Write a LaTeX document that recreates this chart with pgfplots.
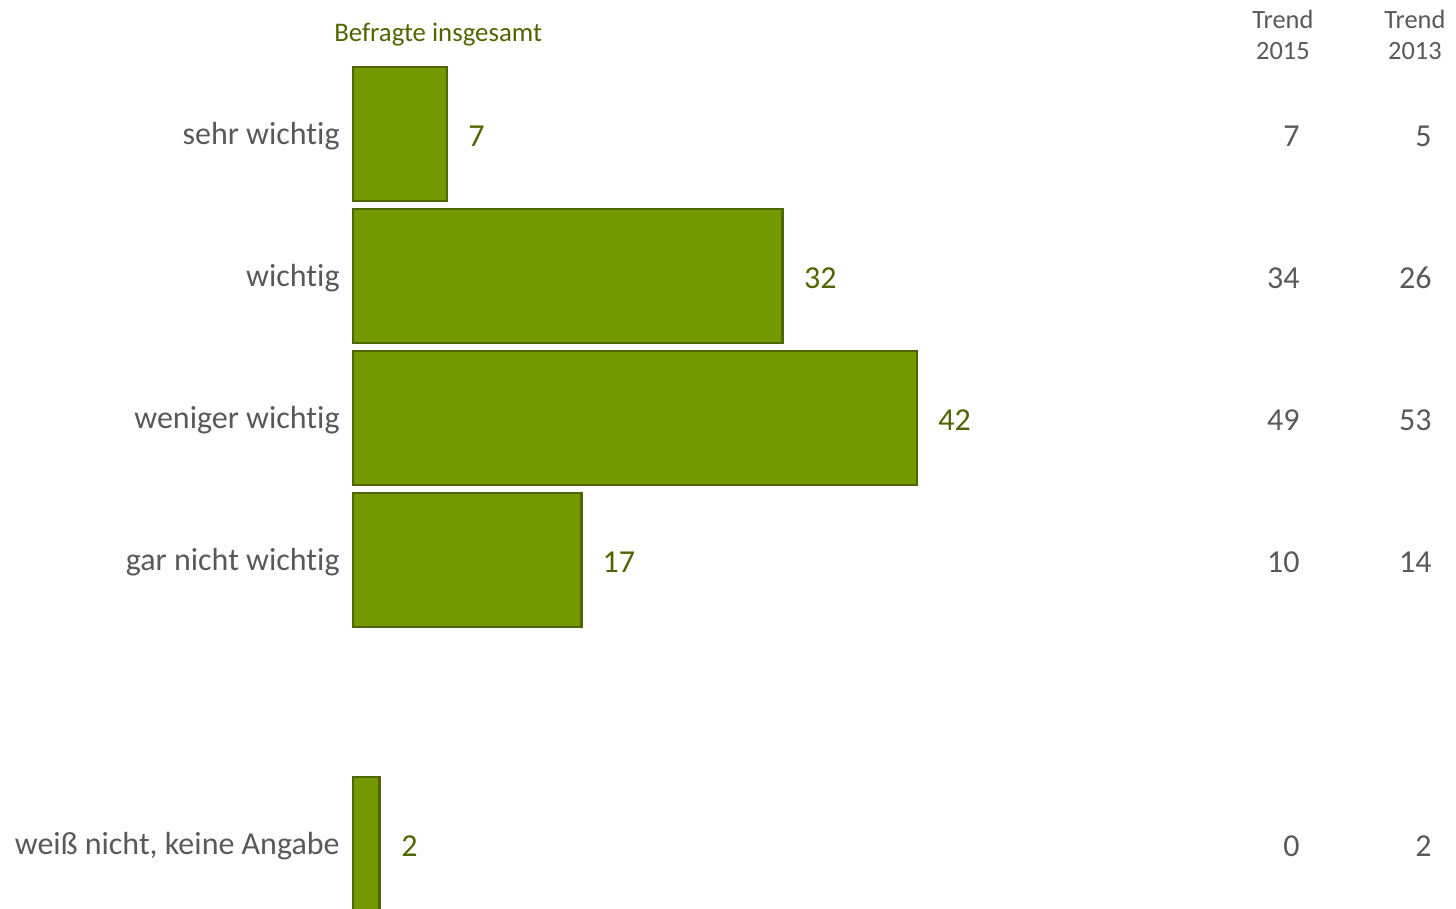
\documentclass[border=0pt]{standalone}
\usepackage{pgfplots}
\pgfplotsset{compat=1.18}
\usepackage{fontspec}
\setmainfont{Carlito}[Ligatures=NoCommon]
\newcommand\tI{t\kern0pt i}
\definecolor{barfill}{HTML}{739900}
\definecolor{bardraw}{HTML}{4F6600}
\definecolor{txtgreen}{HTML}{4F6600}
\definecolor{txtgray}{HTML}{595959}
\begin{document}
\begin{tikzpicture}
\begin{axis}[
  at={(176.5pt,0pt)}, anchor=south west,
  scale only axis, width=551.5pt, height=454.5pt,
  xmin=0, xmax=82.13, ymin=-0.944, ymax=5.458,
  y dir=reverse, clip=false,
  axis line style={draw=none},
  major tick length=0pt,
  xtick=\empty,
  ytick={0,1,2,3,5},
  yticklabels={sehr wich\tI g, wich\tI g, weniger wich\tI g, gar nicht wich\tI g, {weiß nicht, keine Angabe}},
  yticklabel style={font=\fontsize{16}{19}\selectfont, text=txtgray, inner sep=0pt, anchor=east, xshift=-6.5pt, yshift=-1pt},
]
\addplot[xbar, bar width=67pt, bar shift=0pt, fill=barfill, draw=bardraw, line width=1.4pt,
  nodes near coords, point meta=explicit symbolic,
  nodes near coords style={font=\fontsize{16}{19}\selectfont, text=txtgreen, anchor=west, inner sep=0pt, xshift=10pt, yshift=-1pt}]
  table[meta=l] {
x y l
7 0 7
32 1 32
42 2 42
17 3 17
2 5 2
};
\addplot[only marks, mark=none, nodes near coords, point meta=explicit symbolic,
  nodes near coords style={font=\fontsize{16}{19}\selectfont, text=txtgray, anchor=east, inner sep=0pt, yshift=-1pt}]
  table[meta=l] {
x y l
70.51 0 7
70.51 1 34
70.51 2 49
70.51 3 10
70.51 5 0
};
\addplot[only marks, mark=none, nodes near coords, point meta=explicit symbolic,
  nodes near coords style={font=\fontsize{16}{19}\selectfont, text=txtgray, anchor=east, inner sep=0pt, yshift=-1pt}]
  table[meta=l] {
x y l
80.34 0 5
80.34 1 26
80.34 2 53
80.34 3 14
80.34 5 2
};
\node[font=\fontsize{13.4}{15.5}\selectfont, text=txtgreen, inner sep=0pt] at (axis cs:6.34,-0.70) {Befragte insgesamt};
\node[font=\fontsize{13.2}{15.5}\selectfont, text=txtgray, inner sep=0pt, align=center] at (axis cs:69.24,-0.70) {Trend\\2015};
\node[font=\fontsize{13.2}{15.5}\selectfont, text=txtgray, inner sep=0pt, align=center] at (axis cs:79.07,-0.70) {Trend\\2013};
\end{axis}
\pgfresetboundingbox
\useasboundingbox (0,0) rectangle (728pt,454.5pt);
\end{tikzpicture}
\end{document}
